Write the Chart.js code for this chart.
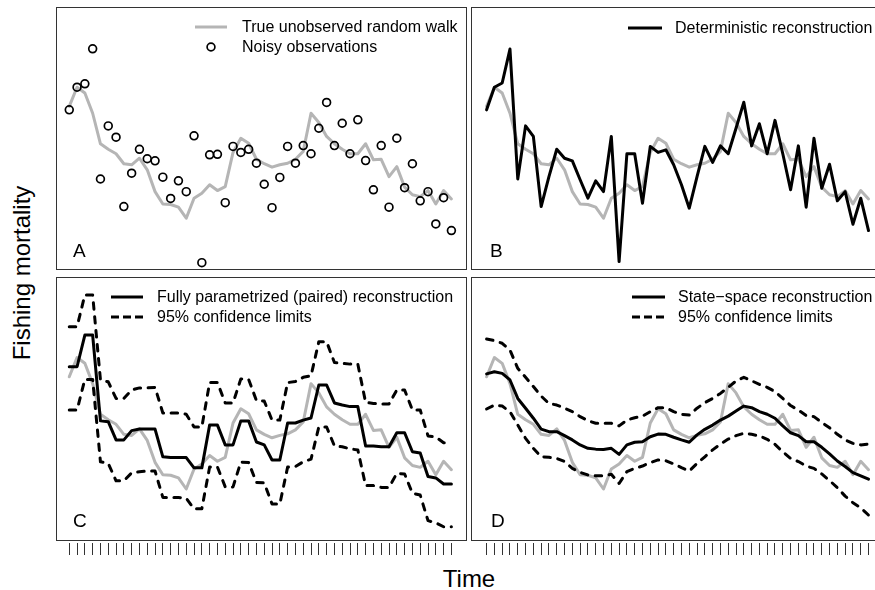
<!DOCTYPE html>
<html>
<head>
<meta charset="utf-8">
<script src="https://cdn.jsdelivr.net/npm/chart.js@4.4.1/dist/chart.umd.min.js"></script>
<style>
  html, body { margin: 0; padding: 0; background: #fff; overflow: hidden; }
  #wrap { position: relative; width: 875px; height: 590px; overflow: hidden; font-family: "Liberation Sans", Arial, sans-serif; color: #000; }
  canvas { position: absolute; }
  .leg { position: absolute; display: flex; align-items: center; height: 20px; font-size: 16px; line-height: 20px; white-space: nowrap; }
  .leg svg { flex: none; }
  .letter { position: absolute; font-size: 19px; line-height: 19px; }
  .title { position: absolute; font-size: 24px; line-height: 24px; white-space: nowrap; }
</style>
</head>
<body>
<div id="wrap">
  <canvas id="chartA" width="411" height="263" style="left:56px;top:7px"></canvas>
  <canvas id="chartB" width="410" height="263" style="left:471px;top:7px"></canvas>
  <canvas id="chartC" width="411" height="278" style="left:56px;top:277px"></canvas>
  <canvas id="chartD" width="410" height="278" style="left:471px;top:277px"></canvas>

  <!-- legends -->
  <div class="leg" style="left:195px;top:17px">
    <svg width="47" height="20"><line x1="0" y1="10" x2="32" y2="10" stroke="#b5b5b5" stroke-width="3"/></svg>
    <span>True unobserved random walk</span>
  </div>
  <div class="leg" style="left:195px;top:37px">
    <svg width="47" height="20"><circle cx="16" cy="10" r="3.9" fill="none" stroke="#000" stroke-width="1.7"/></svg>
    <span>Noisy observations</span>
  </div>
  <div class="leg" style="left:628px;top:18px">
    <svg width="47" height="20"><line x1="0" y1="10" x2="34" y2="10" stroke="#000" stroke-width="3"/></svg>
    <span>Deterministic reconstruction</span>
  </div>
  <div class="leg" style="left:111px;top:287px">
    <svg width="46" height="20"><line x1="0" y1="10" x2="32" y2="10" stroke="#000" stroke-width="3"/></svg>
    <span>Fully parametrized (paired) reconstruction</span>
  </div>
  <div class="leg" style="left:111px;top:307px">
    <svg width="46" height="20"><line x1="0" y1="10" x2="32" y2="10" stroke="#000" stroke-width="3" stroke-dasharray="8 4"/></svg>
    <span>95% confidence limits</span>
  </div>
  <div class="leg" style="left:632px;top:287px">
    <svg width="46" height="20"><line x1="0" y1="10" x2="33" y2="10" stroke="#000" stroke-width="3"/></svg>
    <span>State&#8722;space reconstruction</span>
  </div>
  <div class="leg" style="left:632px;top:307px">
    <svg width="46" height="20"><line x1="0" y1="10" x2="33" y2="10" stroke="#000" stroke-width="3" stroke-dasharray="8 4"/></svg>
    <span>95% confidence limits</span>
  </div>

  <div class="letter" style="left:73px;top:241px">A</div>
  <div class="letter" style="left:490px;top:241px">B</div>
  <div class="letter" style="left:73px;top:511px">C</div>
  <div class="letter" style="left:491px;top:511px">D</div>

  <div class="title" style="left:22px;top:273px;transform:translate(-50%,-50%) rotate(-90deg)">Fishing mortality</div>
  <div class="title" style="left:469px;top:567px;transform:translateX(-50%)">Time</div>
</div>

<script>
// time steps (one tick per step, no labels)
const years = [1, 2, 3, 4, 5, 6, 7, 8, 9, 10, 11, 12, 13, 14, 15, 16, 17, 18, 19, 20,
  21, 22, 23, 24, 25, 26, 27, 28, 29, 30, 31, 32, 33, 34, 35, 36, 37, 38, 39, 40,
  41, 42, 43, 44, 45, 46, 47, 48, 49, 50];

// relative fishing mortality (0 = panel bottom, 1 = panel top)
const trueWalk = [0.622, 0.695, 0.673, 0.596, 0.480, 0.459, 0.442, 0.404, 0.400, 0.425,
  0.381, 0.298, 0.251, 0.249, 0.239, 0.197, 0.273, 0.292, 0.324, 0.302,
  0.317, 0.447, 0.501, 0.482, 0.421, 0.404, 0.391, 0.400, 0.406, 0.421,
  0.451, 0.596, 0.561, 0.508, 0.480, 0.459, 0.442, 0.442, 0.480, 0.419,
  0.421, 0.355, 0.393, 0.315, 0.286, 0.279, 0.302, 0.251, 0.302, 0.270];

const noisyObs = [0.609, 0.695, 0.708, 0.841, 0.346, 0.548, 0.505, 0.241, 0.368, 0.459,
  0.423, 0.415, 0.353, 0.272, 0.339, 0.298, 0.510, 0.028, 0.438, 0.440,
  0.256, 0.470, 0.447, 0.459, 0.406, 0.326, 0.237, 0.352, 0.470, 0.406,
  0.473, 0.442, 0.539, 0.637, 0.473, 0.558, 0.442, 0.571, 0.416, 0.305,
  0.473, 0.239, 0.501, 0.313, 0.404, 0.263, 0.298, 0.175, 0.275, 0.150];

const deterministic = [0.609, 0.695, 0.711, 0.840, 0.346, 0.548, 0.508, 0.241, 0.355, 0.459,
  0.425, 0.415, 0.343, 0.273, 0.339, 0.298, 0.508, 0.032, 0.442, 0.442,
  0.254, 0.470, 0.447, 0.457, 0.400, 0.324, 0.235, 0.355, 0.470, 0.409,
  0.472, 0.442, 0.539, 0.638, 0.472, 0.556, 0.442, 0.569, 0.442, 0.305,
  0.472, 0.239, 0.501, 0.311, 0.402, 0.263, 0.298, 0.174, 0.273, 0.150];

const pairedFit = [0.660, 0.660, 0.780, 0.780, 0.455, 0.452, 0.383, 0.383, 0.418, 0.424,
  0.424, 0.424, 0.319, 0.316, 0.316, 0.316, 0.277, 0.277, 0.439, 0.439,
  0.364, 0.364, 0.455, 0.455, 0.375, 0.364, 0.307, 0.307, 0.447, 0.447,
  0.458, 0.466, 0.591, 0.591, 0.523, 0.515, 0.509, 0.509, 0.360, 0.360,
  0.357, 0.357, 0.410, 0.410, 0.338, 0.333, 0.244, 0.239, 0.216, 0.216];

const pairedUpper = [0.812, 0.812, 0.932, 0.932, 0.610, 0.603, 0.540, 0.540, 0.572, 0.580,
  0.580, 0.582, 0.485, 0.485, 0.485, 0.480, 0.432, 0.432, 0.600, 0.600,
  0.523, 0.523, 0.614, 0.612, 0.532, 0.530, 0.458, 0.458, 0.600, 0.604,
  0.620, 0.626, 0.755, 0.755, 0.676, 0.673, 0.670, 0.670, 0.525, 0.521,
  0.519, 0.519, 0.572, 0.572, 0.496, 0.496, 0.398, 0.394, 0.372, 0.372];

const pairedLower = [0.496, 0.496, 0.612, 0.612, 0.300, 0.294, 0.228, 0.228, 0.258, 0.262,
  0.265, 0.265, 0.165, 0.165, 0.165, 0.162, 0.122, 0.122, 0.280, 0.280,
  0.205, 0.205, 0.299, 0.297, 0.222, 0.220, 0.140, 0.140, 0.280, 0.282,
  0.300, 0.310, 0.432, 0.432, 0.360, 0.357, 0.349, 0.345, 0.210, 0.210,
  0.203, 0.203, 0.256, 0.254, 0.181, 0.174, 0.077, 0.069, 0.054, 0.054];

const stateFit = [0.633, 0.641, 0.635, 0.610, 0.540, 0.503, 0.465, 0.424, 0.414, 0.414,
  0.399, 0.383, 0.364, 0.351, 0.348, 0.347, 0.351, 0.328, 0.364, 0.374,
  0.376, 0.395, 0.405, 0.404, 0.393, 0.383, 0.374, 0.402, 0.423, 0.439,
  0.458, 0.473, 0.492, 0.511, 0.505, 0.490, 0.480, 0.465, 0.436, 0.410,
  0.399, 0.376, 0.376, 0.355, 0.330, 0.303, 0.282, 0.259, 0.247, 0.234];

const stateUpper = [0.765, 0.759, 0.749, 0.723, 0.654, 0.620, 0.585, 0.549, 0.521, 0.515,
  0.503, 0.490, 0.471, 0.456, 0.446, 0.446, 0.446, 0.436, 0.458, 0.467,
  0.473, 0.490, 0.505, 0.505, 0.490, 0.480, 0.477, 0.503, 0.524, 0.540,
  0.559, 0.582, 0.606, 0.620, 0.607, 0.593, 0.582, 0.566, 0.540, 0.513,
  0.496, 0.475, 0.471, 0.449, 0.429, 0.404, 0.383, 0.370, 0.364, 0.367];

const stateLower = [0.500, 0.515, 0.511, 0.490, 0.439, 0.389, 0.351, 0.319, 0.317, 0.313,
  0.301, 0.275, 0.260, 0.250, 0.247, 0.247, 0.253, 0.218, 0.263, 0.275,
  0.284, 0.297, 0.307, 0.304, 0.292, 0.278, 0.265, 0.294, 0.319, 0.345,
  0.367, 0.386, 0.399, 0.408, 0.404, 0.398, 0.385, 0.366, 0.338, 0.313,
  0.301, 0.284, 0.275, 0.254, 0.229, 0.202, 0.170, 0.145, 0.126, 0.098];

const GREY = '#b5b5b5';

const pts = arr => years.map((t, i) => ({ x: t, y: arr[i] }));

const lineSet = (arr, color, dashed) => ({
  data: pts(arr),
  borderColor: color,
  borderWidth: 3,
  borderDash: dashed ? [6.5, 7.5] : [],
  borderCapStyle: 'round',
  borderJoinStyle: 'round',
  pointRadius: 0,
  tension: 0,
  fill: false
});

const circleSet = arr => ({
  data: pts(arr),
  showLine: false,
  pointRadius: 3.9,
  pointBorderWidth: 1.7,
  pointBorderColor: '#000',
  pointBackgroundColor: 'rgba(0,0,0,0)'
});

// box around each panel
const boxPlugin = {
  id: 'panelBox',
  afterDatasetsDraw(chart) {
    const { ctx, chartArea: a } = chart;
    ctx.save();
    ctx.strokeStyle = '#333';
    ctx.lineWidth = 1;
    ctx.strokeRect(a.left + 0.5, a.top + 0.5, a.right - a.left - 1, a.bottom - a.top - 1);
    ctx.restore();
  }
};

function panel(id, datasets, xMin, xMax, withTicks) {
  return new Chart(document.getElementById(id), {
    type: 'line',
    data: { datasets },
    options: {
      responsive: false,
      animation: false,
      events: [],
      layout: { padding: 0, autoPadding: false },
      plugins: { legend: { display: false }, tooltip: { enabled: false } },
      scales: {
        x: {
          type: 'linear',
          min: xMin,
          max: xMax,
          display: withTicks,
          afterBuildTicks: axis => { axis.ticks = years.map(v => ({ value: v })); },
          grid: {
            drawOnChartArea: false,
            drawTicks: true,
            tickLength: 14,
            tickColor: '#333',
            tickWidth: 1,
            tickBorderDash: [0, 2, 12, 40]
          },
          border: { display: false },
          ticks: { display: false }
        },
        y: { type: 'linear', min: 0, max: 1, display: false }
      }
    },
    plugins: [boxPlugin]
  });
}

// first dataset is drawn on top
panel('chartA', [circleSet(noisyObs), lineSet(trueWalk, GREY)], -0.7, 52.0, false);
panel('chartB', [lineSet(deterministic, '#000'), lineSet(trueWalk, GREY)], -1.0, 51.6, false);
panel('chartC', [
  lineSet(pairedFit, '#000'),
  lineSet(pairedUpper, '#000', true),
  lineSet(pairedLower, '#000', true),
  lineSet(trueWalk, GREY)
], -0.7, 52.0, true);
panel('chartD', [
  lineSet(stateFit, '#000'),
  lineSet(stateUpper, '#000', true),
  lineSet(stateLower, '#000', true),
  lineSet(trueWalk, GREY)
], -1.0, 51.6, true);
</script>
</body>
</html>
